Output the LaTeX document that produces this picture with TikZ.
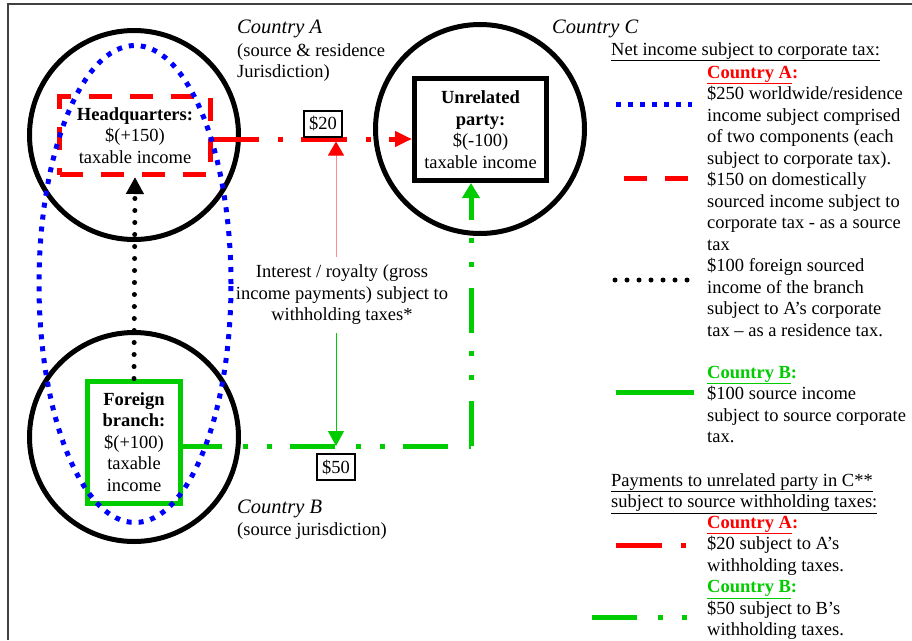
\documentclass[tikz,border=0pt]{standalone}
\usepackage{fontspec}
\setmainfont{Liberation Serif}
\usetikzlibrary{arrows.meta}
\definecolor{brgreen}{RGB}{0,204,0}
\tikzset{my circle/.style={draw, circle, line width=5pt, minimum size=209pt, inner sep=0pt},
my box/.style={draw, line width=5pt, align=center, inner sep=0pt},
my amount/.style={draw, line width=1.5pt, fill=white, inner xsep=5pt, inner ysep=2pt, minimum height=26pt},
my country/.style={anchor=base west, inner sep=0pt, font=\fontsize{20.5}{21.5}\selectfont\itshape},
my text/.style={anchor=north west, inner sep=0pt, align=left},
my note/.style={align=center, inner sep=8pt},
wht red/.style={color=red, line width=5pt, dash pattern=on 46pt off 19pt on 5pt off 18pt},
wht green/.style={color=brgreen, line width=5pt, dash pattern=on 45pt off 21pt on 5pt off 19pt on 5pt off 18pt},
res blue/.style={color=blue, line width=5pt, dash pattern=on 5pt off 7pt},
src red/.style={color=red, line width=5pt, dash pattern=on 23pt off 18pt},
res black/.style={color=black, line width=5pt, line cap=round, dash pattern=on 0pt off 12pt},
src green/.style={color=brgreen, line width=5pt},
}

\begin{document}
\begin{tikzpicture}[x=1pt, y=-1pt, font=\fontsize{18.5}{21.5}\selectfont]
\useasboundingbox (0,0) rectangle (912,640);
\draw[line width=2pt, black!75] (8,640) -- (8,4) -- (912,4);
% countries
\node [my circle] (cA) at (134,135) {};
\node [my circle] (cB) at (134,437) {};
\node [my circle] (cC) at (480,129) {};
\node [my country] (lblA) at (237,33) {Country A};
\node [my text] (subA) at (237,41) {\strut(source \& residence\\Jurisdiction)};
\node [my country] (lblC) at (552,33) {Country C};
\node [my country] (lblB) at (237,513) {Country B};
\node [my text, anchor=base west] (subB) at (237,535) {(source jurisdiction)};
% entities
\node [my box, src red, text=black, minimum width=151pt, minimum height=78pt] (hq) at (135,135.5) {\textbf{Headquarters:}\\\$(+150)\\taxable income};
\node [my box, minimum width=132pt, minimum height=102pt] (party) at (480.5,129.5) {\textbf{Unrelated}\\\textbf{party:}\\\$(-100)\\taxable income};
\node [my box, src green, text=black, minimum width=93pt, minimum height=122pt] (branch) at (134,442) {\textbf{Foreign}\\\textbf{branch:}\\\$(+100)\\taxable\\income};
% payments
\coordinate (wA) at (336,139);
\coordinate (wB) at (336,446);
\coordinate (bend) at (471,446);
\draw [wht red, -{Triangle[length=17pt,width=15pt]}] ([yshift=-3.5pt]hq.east) -- (wA -| party.west);
\draw [wht green, dash phase=6pt] ([yshift=-4pt]branch.east) -- (bend);
\draw [wht green, -{Triangle[length=15pt,width=17pt]}] (bend) -- (bend |- party.south);
\draw [res black, -{Triangle[length=17pt,width=17pt]}] (branch.north) -- (hq.south);
\draw [res blue] (135,284) ellipse [x radius=96pt, y radius=238.5pt];
\node [my amount] (amtA) at (323,124) {\$20};
\node [my amount] (amtB) at (336,467) {\$50};
\node [my note] (note) at (342,295) {Interest / royalty (gross\\income payments) subject to\\withholding taxes*};
\draw [red!45, line width=1pt, -{Triangle[length=14pt,width=16pt,color=red]}] (note.north -| wA) -- ([yshift=-2.5pt]wA);
\draw [brgreen, line width=1pt, -{Triangle[length=15pt,width=16pt]}] (note.south -| wB) -- (wB);
% legend
\node [my text, anchor=base west] (headA) at (611,55) {\underline{Net income subject to corporate tax:}};
\node [my text] (legA) at (707,63) {\strut{\color{red}\textbf{\underline{Country A}:}}\\\$250 worldwide/residence\\income subject comprised\\of two components (each\\subject to corporate tax).\\\$150 on domestically\\sourced income subject to\\corporate tax - as a source\\tax\\\$100 foreign sourced\\income of the branch\\subject to A’s corporate\\tax – as a residence tax.};
\node [my text] (legB) at (707,363) {\strut{\color{brgreen}\textbf{\underline{Country B}:}}\\\$100 source income\\subject to source corporate\\tax.};
\node [my text] (headB) at (611,471) {\strut\underline{Payments to unrelated party in C**}\\\underline{subject to source withholding taxes:}};
\node [my text] (legC) at (707,513) {\strut{\color{red}\textbf{\underline{Country A}:}}\\\$20 subject to A’s\\withholding taxes.\\{\color{brgreen}\textbf{\underline{Country B}:}}\\\$50 subject to B’s\\withholding taxes.};
\draw [res blue] (616,104) -- (692,104);
\draw [src red] (624,178) -- (690,178);
\draw [res black] (615,280) -- (689,280);
\draw [src green] (616,392) -- (694,392);
\draw [wht red] (616,545) -- (687,545);
\draw [wht green] (592,617) -- (687,617);
\end{tikzpicture}
\end{document}
